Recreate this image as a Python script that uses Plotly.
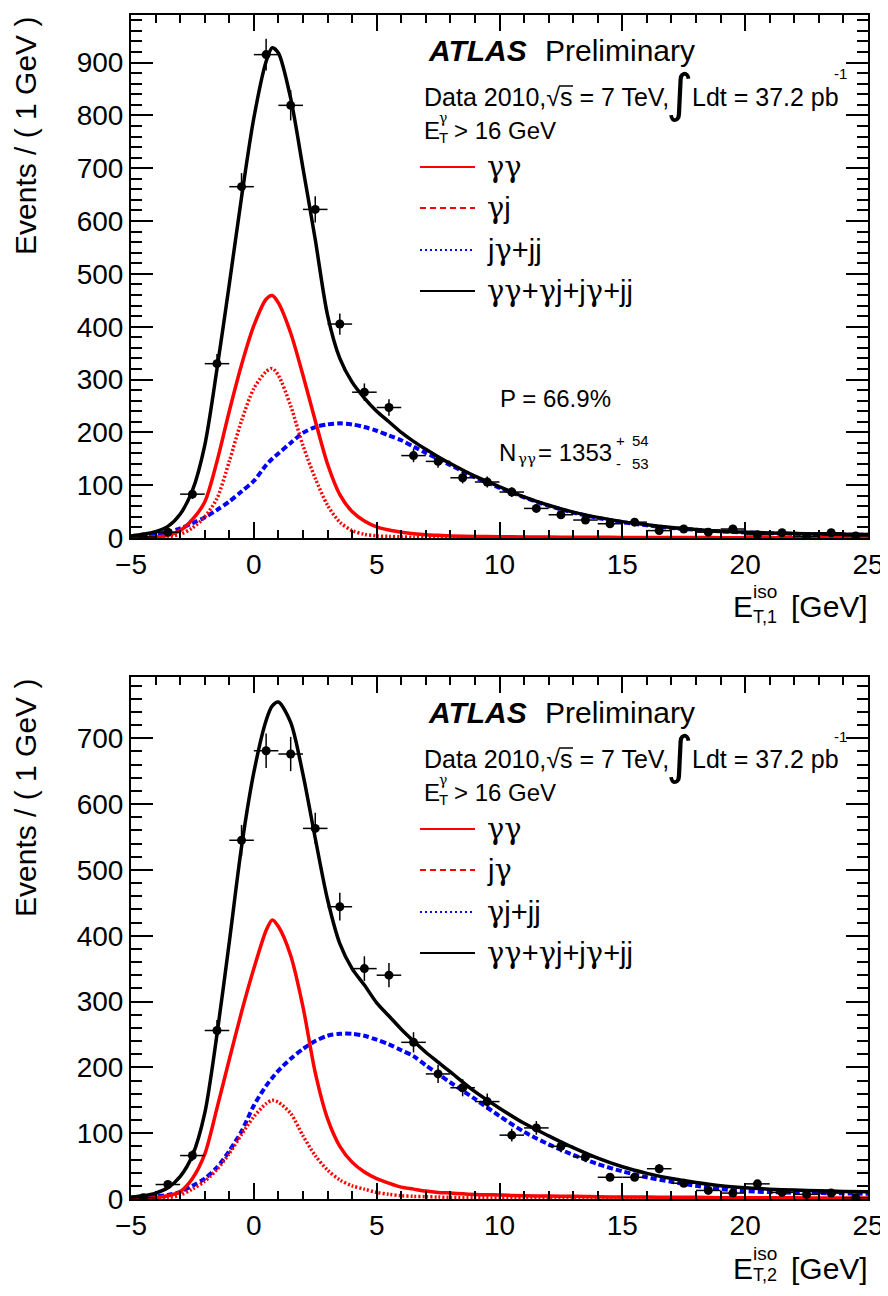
import plotly.graph_objects as go

# ---------------- data ----------------
bin_centers = [-4.5, -3.5, -2.5, -1.5, -0.5, 0.5, 1.5, 2.5, 3.5, 4.5, 5.5, 6.5, 7.5, 8.5, 9.5,
               10.5, 11.5, 12.5, 13.5, 14.5, 15.5, 16.5, 17.5, 18.5, 19.5, 20.5, 21.5, 22.5, 23.5, 24.5]

# leading photon (top panel)
data1 = [2, 11, 83, 330, 665, 915, 819, 622, 405, 276, 247, 156, 145, 114, 106,
         87, 56, 44, 34, 27, 30, 14, 17, 11, 17, 6, 10, 3, 10, 4]
err1 = [1.4, 3.3, 9.1, 18.2, 25.8, 30.2, 28.6, 24.9, 20.1, 16.6, 15.7, 12.5, 12.0, 10.7, 10.3,
        9.3, 7.5, 6.6, 5.8, 5.2, 5.5, 3.7, 4.1, 3.3, 4.1, 2.4, 3.2, 1.7, 3.2, 2.0]

# sub-leading photon (bottom panel)
data2 = [2, 22, 66, 256, 545, 681, 676, 563, 444, 350, 340, 238, 190, 169, 148,
         97, 108, 80, 64, 33, 33, 46, 24, 13, 9, 23, 10, 7, 9, 2]
err2 = [1.4, 4.7, 8.1, 16.0, 23.3, 26.1, 26.0, 23.7, 21.1, 18.7, 18.4, 15.4, 13.8, 13.0, 12.2,
        9.8, 10.4, 8.9, 8.0, 5.7, 5.7, 6.8, 4.9, 3.6, 3.0, 4.8, 3.2, 2.6, 3.0, 1.4]

# fit curves
curve_x = [-5, -4.5, -4, -3.5, -3, -2.5, -2, -1.5, -1, -0.5, 0, 0.5, 0.75, 1, 1.5, 2, 2.5, 3, 3.5, 4, 4.5,
           5, 5.5, 6, 6.5, 7, 7.5, 8, 9, 10, 11, 12, 13, 14, 15, 16, 17, 18, 19, 20, 21, 22, 23, 24, 25]

gg1 = [0.5, 1, 2, 5, 14, 35, 68, 145, 240, 328, 402, 452, 459, 445, 388, 308, 222, 140, 82, 50, 32,
       21, 15, 11, 8, 6, 5, 4, 3, 2.5, 2, 1.7, 1.5, 1.3, 1.1, 1, 0.9, 0.8, 0.7, 0.6, 0.6, 0.5, 0.5, 0.4, 0.4]
gj1 = [0.2, 0.5, 1, 2.5, 7, 19, 40, 75, 145, 222, 283, 315, 321, 308, 250, 175, 113, 62, 30, 14, 7,
       4, 3, 2, 1.5, 1, 0.8, 0.6, 0.4, 0.3, 0.2, 0.2, 0.1, 0.1, 0.1, 0.1, 0.1, 0.1, 0.1, 0.1, 0.1, 0.1, 0.1, 0.1, 0.1]
jj1 = [3, 5, 7, 11, 18, 28, 39, 53, 69, 88, 108, 138, 150, 160, 180, 199, 210, 215, 217, 215, 210,
       203, 194, 185, 173, 161, 150, 138, 115, 95, 77, 61, 48, 38, 30, 24, 19, 15.5, 12.5, 10.5, 9, 8, 7, 6.5, 6]
tot1 = [4, 7, 12, 22, 45, 90, 175, 320, 480, 645, 795, 902, 928, 918, 832, 700, 565, 422, 340, 295, 265,
        240, 220, 200, 183, 168, 154, 141, 117, 97, 78, 62, 49, 39, 31, 25, 20, 16, 13, 11, 9.5, 8.5, 7.5, 7, 6.5]

gg2 = [0.3, 1, 2, 5, 11, 31, 68, 138, 212, 284, 350, 408, 424, 414, 370, 292, 192, 122, 80, 56, 41,
       31, 24, 18, 15, 12, 10, 9, 7, 6, 5, 4.5, 4, 3.5, 3, 3, 2.5, 2.5, 2, 2, 2, 1.8, 1.6, 1.5, 1.5]
jg2 = [0.1, 0.3, 1, 2, 6, 15, 27, 45, 69, 98, 125, 145, 150, 147, 130, 96, 66, 44, 29, 20, 15,
       10, 7, 5, 4, 3.5, 3, 2.5, 2, 1.5, 1.2, 1, 0.9, 0.8, 0.7, 0.6, 0.5, 0.5, 0.4, 0.4, 0.4, 0.3, 0.3, 0.3, 0.3]
jj2 = [1, 2, 4, 6, 11, 20, 31, 48, 73, 103, 142, 172, 184, 195, 213, 228, 240, 248, 251, 251, 248,
       242, 235, 226, 217, 203, 190, 177, 152, 126, 102, 83, 67, 53, 42, 33, 26, 20, 15, 12, 10.5, 9.5, 9, 8.5, 8]
tot2 = [3, 5, 9, 17, 34, 66, 130, 250, 390, 535, 648, 727, 749, 755, 724, 645, 548, 455, 388, 350, 325,
        298, 278, 258, 240, 223, 208, 193, 163, 138, 115, 96, 78, 62, 49, 39, 31, 25, 20, 17, 15, 13.5, 12.5, 11.5, 11]

legend1 = ["γγ", "γj", "jγ+jj", "γγ+γj+jγ+jj"]
legend2 = ["γγ", "jγ", "γj+jj", "γγ+γj+jγ+jj"]
xtitle_sub = ["T,1", "T,2"]

x_range = [-5, 25]
y_max = [990, 793]

# ---------------- geometry helpers ----------------
# the page body has an 8px default margin; the figure is sized so that it fits the window
OFF = 8
W, H = 888 - OFF, 1296 - 2 * OFF
def PX(x):
    return (x - OFF) / W
def PY(y):
    return 1 - (y - OFF) / H

FONT = "Liberation Sans"
GFONT = "DejaVu Serif"
RED, BLUE, BLACK = "#ff0000", "#0000ff", "#000000"

def greek(s):
    """wrap gamma glyphs in a serif font span (ROOT draws them with a symbol font)"""
    return s.replace("γ", "<span style='font-family:%s'>γ</span>" % GFONT)

fig = go.Figure()

panels = [
    dict(xa="x", ya="y", gg=gg1, gj=gj1, jj=jj1, tot=tot1, data=data1, err=err1),
    dict(xa="x2", ya="y2", gg=gg2, gj=jg2, jj=jj2, tot=tot2, data=data2, err=err2),
]

for p in panels:
    common = dict(xaxis=p["xa"], yaxis=p["ya"], showlegend=False, hoverinfo="skip")
    fig.add_trace(go.Scatter(x=curve_x, y=p["jj"], mode="lines",
                             line=dict(color=BLUE, width=4, dash="6px,3px", shape="spline", smoothing=0.8), **common))
    fig.add_trace(go.Scatter(x=curve_x, y=p["gj"], mode="lines",
                             line=dict(color=RED, width=3.5, dash="2px,2px", shape="spline", smoothing=0.8), **common))
    fig.add_trace(go.Scatter(x=curve_x, y=p["gg"], mode="lines",
                             line=dict(color=RED, width=3.5, shape="spline", smoothing=0.8), **common))
    fig.add_trace(go.Scatter(x=curve_x, y=p["tot"], mode="lines",
                             line=dict(color=BLACK, width=3.5, shape="spline", smoothing=0.8), **common))
    fig.add_trace(go.Scatter(x=bin_centers, y=p["data"], mode="markers",
                             marker=dict(color=BLACK, size=9),
                             error_y=dict(type="data", array=p["err"], color=BLACK, thickness=1.5, width=0),
                             error_x=dict(type="constant", value=0.5, color=BLACK, thickness=1.5, width=0),
                             **common))

def xaxis_cfg(anchor):
    return dict(domain=[PX(131), PX(868)], anchor=anchor, range=x_range, dtick=5, tick0=0,
                ticks="inside", ticklen=16, tickwidth=1.5, tickcolor=BLACK,
                minor=dict(dtick=1, ticks="inside", ticklen=8, tickwidth=1.5, tickcolor=BLACK),
                showline=True, linecolor=BLACK, linewidth=2, mirror="ticks",
                showgrid=False, zeroline=False, automargin=False, ticklabeloverflow="allow",
                tickfont=dict(family=FONT, size=28, color=BLACK))

def yaxis_cfg(anchor, top, bottom, ymax):
    return dict(domain=[PY(bottom), PY(top)], anchor=anchor, range=[0, ymax], dtick=100, tick0=0,
                ticks="inside", ticklen=22, tickwidth=1.5, tickcolor=BLACK,
                minor=dict(dtick=20, ticks="inside", ticklen=11, tickwidth=1.5, tickcolor=BLACK),
                showline=True, linecolor=BLACK, linewidth=2, mirror="ticks",
                showgrid=False, zeroline=False, automargin=False, ticklabeloverflow="allow",
                tickfont=dict(family=FONT, size=28, color=BLACK))

annotations = []
shapes = []

def text(x, y, s, size, family=FONT, **kw):
    d = dict(x=PX(x), y=PY(y), xref="paper", yref="paper", text=s, showarrow=False,
             xanchor="left", yanchor="middle", font=dict(family=family, size=size, color=BLACK))
    d.update(kw)
    annotations.append(d)

sub_y = [617, 613]
for i, dy in enumerate([0, 662]):
    legend = legend1 if i == 0 else legend2
    text(426, 50 + dy, "<b><i>ATLAS</i></b>", 30)
    text(543, 50 + dy, "Preliminary", 30)
    text(422, 97 + dy, "Data 2010,√s = 7 TeV,", 25)
    shapes.append(dict(type="line", xref="paper", yref="paper",
                       x0=PX(559), x1=PX(573), y0=PY(86 + dy), y1=PY(86 + dy),
                       line=dict(color=BLACK, width=1.5)))
    text(664, 93 + dy, "∫", 52, family="DejaVu Sans")
    text(690, 97 + dy, "Ldt = 37.2 pb", 25)
    text(832, 74 + dy, "-1", 15)
    text(422, 130 + dy, "E", 24)
    text(437, 118 + dy, greek("γ"), 14)
    text(437, 137 + dy, "T", 15)
    text(452, 130 + dy, "> 16 GeV", 24)
    rows = [167, 208, 250, 291]
    styles = [(RED, None), (RED, "6px,4px"), (BLUE, "2px,3px"), (BLACK, None)]
    for r, lab, (col, dash) in zip(rows, legend, styles):
        ln = dict(color=col, width=2)
        if dash:
            ln["dash"] = dash
        shapes.append(dict(type="line", xref="paper", yref="paper",
                           x0=PX(420), x1=PX(475), y0=PY(r + dy), y1=PY(r + dy), line=ln))
        text(485, r + dy, greek(lab), 29)
    # axis titles
    text(25, 15 + dy, "Events / ( 1 GeV )", 30, textangle=-90, xanchor="center", yanchor="top")
    text(731, 606 + dy, "E", 30)
    text(751, 591 + dy, "iso", 19)
    text(751, sub_y[i] + dy, xtitle_sub[i], 18)
    text(789, 606 + dy, "[GeV]", 30)

# fit results (top panel only)
text(498, 398, "P = 66.9%", 24)
text(497, 452, "N", 24)
text(516, 459, greek("γγ"), 15)
text(536, 452, "= 1353", 24)
text(614, 440, "+", 15)
text(630, 440, "54", 15)
text(614, 463, "-", 15)
text(630, 463, "53", 15)

fig.update_layout(
    width=W, height=H,
    margin=dict(l=0, r=0, t=0, b=0, autoexpand=False),
    paper_bgcolor="white", plot_bgcolor="white",
    xaxis=xaxis_cfg("y"),
    yaxis=yaxis_cfg("x", 15, 538, y_max[0]),
    xaxis2=xaxis_cfg("y2"),
    yaxis2=yaxis_cfg("x2", 677, 1199, y_max[1]),
    annotations=annotations,
    shapes=shapes,
    showlegend=False,
)

fig.write_html("out.html")
